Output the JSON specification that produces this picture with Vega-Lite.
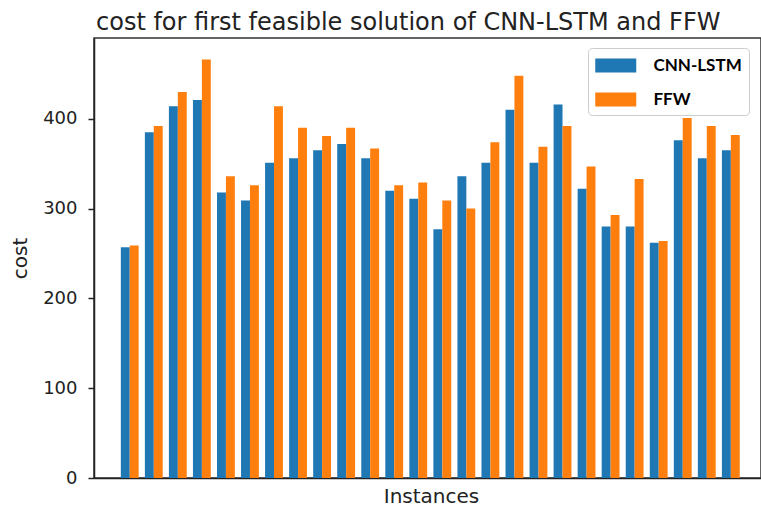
{
  "$schema": "https://vega.github.io/schema/vega-lite/v6.json",
  "width": 667,
  "height": 440,
  "autosize": {"type": "none"},
  "padding": {"left": 94, "top": 38, "right": 0, "bottom": 33},
  "background": "white",
  "title": {"text": "cost for first feasible solution of CNN-LSTM and FFW", "anchor": "start", "frame": "group", "font": "DejaVu Sans", "fontSize": 24, "fontWeight": "normal", "color": "#222", "offset": 3, "dx": 2},
  "data": {"values": [
    {"instance": 1, "model": "CNN-LSTM", "cost": 257}, {"instance": 1, "model": "FFW", "cost": 259},
    {"instance": 2, "model": "CNN-LSTM", "cost": 385}, {"instance": 2, "model": "FFW", "cost": 392},
    {"instance": 3, "model": "CNN-LSTM", "cost": 414}, {"instance": 3, "model": "FFW", "cost": 430},
    {"instance": 4, "model": "CNN-LSTM", "cost": 421}, {"instance": 4, "model": "FFW", "cost": 466},
    {"instance": 5, "model": "CNN-LSTM", "cost": 318}, {"instance": 5, "model": "FFW", "cost": 336},
    {"instance": 6, "model": "CNN-LSTM", "cost": 309}, {"instance": 6, "model": "FFW", "cost": 326},
    {"instance": 7, "model": "CNN-LSTM", "cost": 351}, {"instance": 7, "model": "FFW", "cost": 414},
    {"instance": 8, "model": "CNN-LSTM", "cost": 356}, {"instance": 8, "model": "FFW", "cost": 390},
    {"instance": 9, "model": "CNN-LSTM", "cost": 365}, {"instance": 9, "model": "FFW", "cost": 381},
    {"instance": 10, "model": "CNN-LSTM", "cost": 372}, {"instance": 10, "model": "FFW", "cost": 390},
    {"instance": 11, "model": "CNN-LSTM", "cost": 356}, {"instance": 11, "model": "FFW", "cost": 367},
    {"instance": 12, "model": "CNN-LSTM", "cost": 320}, {"instance": 12, "model": "FFW", "cost": 326},
    {"instance": 13, "model": "CNN-LSTM", "cost": 311}, {"instance": 13, "model": "FFW", "cost": 329},
    {"instance": 14, "model": "CNN-LSTM", "cost": 277}, {"instance": 14, "model": "FFW", "cost": 309},
    {"instance": 15, "model": "CNN-LSTM", "cost": 336}, {"instance": 15, "model": "FFW", "cost": 300},
    {"instance": 16, "model": "CNN-LSTM", "cost": 351}, {"instance": 16, "model": "FFW", "cost": 374},
    {"instance": 17, "model": "CNN-LSTM", "cost": 410}, {"instance": 17, "model": "FFW", "cost": 448},
    {"instance": 18, "model": "CNN-LSTM", "cost": 351}, {"instance": 18, "model": "FFW", "cost": 369},
    {"instance": 19, "model": "CNN-LSTM", "cost": 416}, {"instance": 19, "model": "FFW", "cost": 392},
    {"instance": 20, "model": "CNN-LSTM", "cost": 322}, {"instance": 20, "model": "FFW", "cost": 347},
    {"instance": 21, "model": "CNN-LSTM", "cost": 280}, {"instance": 21, "model": "FFW", "cost": 293},
    {"instance": 22, "model": "CNN-LSTM", "cost": 280}, {"instance": 22, "model": "FFW", "cost": 333},
    {"instance": 23, "model": "CNN-LSTM", "cost": 262}, {"instance": 23, "model": "FFW", "cost": 264},
    {"instance": 24, "model": "CNN-LSTM", "cost": 376}, {"instance": 24, "model": "FFW", "cost": 401},
    {"instance": 25, "model": "CNN-LSTM", "cost": 356}, {"instance": 25, "model": "FFW", "cost": 392},
    {"instance": 26, "model": "CNN-LSTM", "cost": 365}, {"instance": 26, "model": "FFW", "cost": 382}
  ]},
  "mark": {"type": "bar"},
  "encoding": {
    "x": {
      "field": "instance", "type": "ordinal",
      "scale": {"paddingInner": 0.258, "paddingOuter": 1.1, "align": 0.558},
      "axis": {"labels": false, "ticks": false, "title": "Instances", "titleFont": "DejaVu Sans", "titleFontSize": 20, "titleFontWeight": "normal", "titleColor": "#222", "titlePadding": 8, "titleX": 337, "domainColor": "#222", "domainWidth": 1.5}
    },
    "xOffset": {"field": "model", "type": "nominal", "scale": {"paddingInner": 0, "paddingOuter": 0}},
    "y": {
      "field": "cost", "type": "quantitative",
      "scale": {"domain": [0, 490], "nice": false},
      "axis": {"values": [0, 100, 200, 300, 400], "grid": false, "title": "cost", "titleFont": "DejaVu Sans", "titleFontSize": 20, "titleFontWeight": "normal", "titleColor": "#222", "titlePadding": 12, "labelFont": "DejaVu Sans", "labelFontSize": 18, "labelColor": "#222", "labelPadding": 11, "tickSize": 6, "tickColor": "#222", "tickWidth": 1.5, "domainColor": "#222", "domainWidth": 1.5}
    },
    "color": {
      "field": "model", "type": "nominal",
      "scale": {"domain": ["CNN-LSTM", "FFW"], "range": ["#1f77b4", "#ff7f0e"]},
      "legend": {"orient": "none", "legendX": 494, "legendY": 10, "title": null, "symbolType": "M-1,-0.68H3V0.68H-1Z", "symbolSize": 420.25, "symbolStrokeWidth": 0, "symbolOpacity": 1, "labelFont": "Lato", "labelFontWeight": "bold", "labelFontSize": 17, "labelColor": "black", "labelOffset": 37.5, "labelLimit": 300, "labelExpr": "datum.label + '\u00a0\u00a0\u00a0'", "rowPadding": 15, "padding": 7, "strokeColor": "#ccc", "fillColor": "white", "cornerRadius": 4}
    }
  },
  "config": {"view": {"stroke": "#333", "strokeWidth": 1.5}}
}
